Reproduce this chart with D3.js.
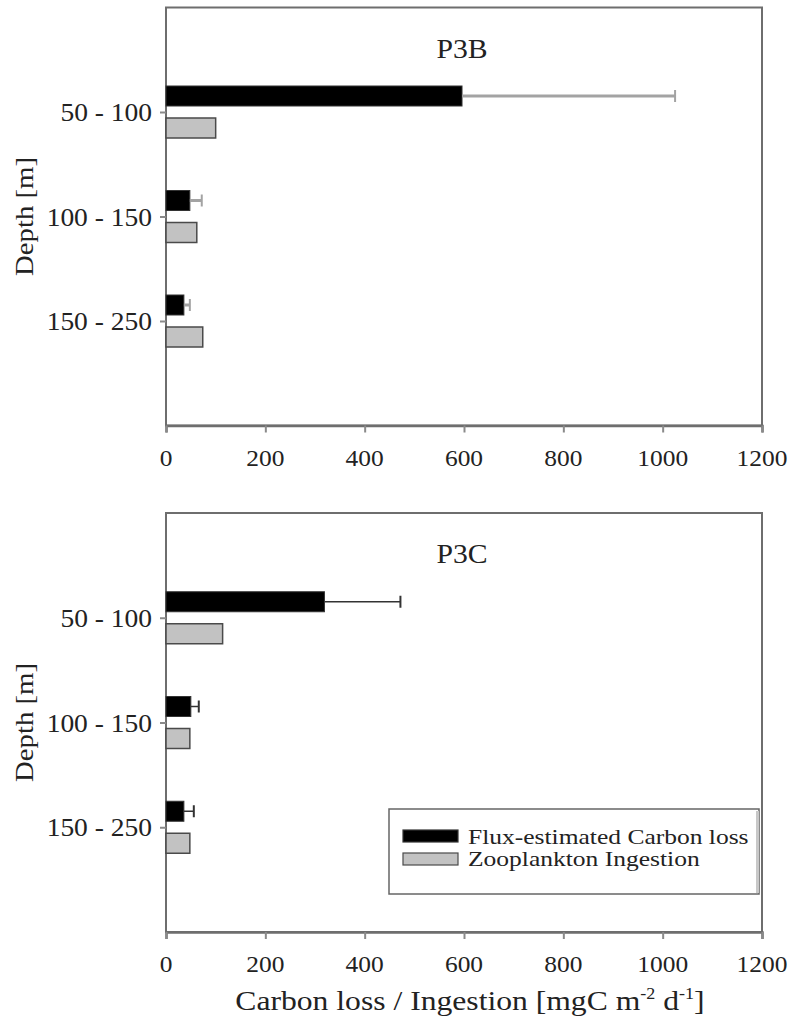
<!DOCTYPE html>
<html>
<head>
<meta charset="utf-8">
<script src="https://cdn.jsdelivr.net/npm/d3@7/dist/d3.min.js"></script>
<style>
  html, body { margin: 0; padding: 0; background: #fff; }
  svg { display: block; }
  text { font-family: "Liberation Serif", "Times New Roman", serif; fill: #222; }
</style>
</head>
<body>
<svg id="chart" width="795" height="1024"></svg>
<script>
// Depth layers (categories) and x-axis ticks
const depths = ["50 - 100", "100 - 150", "150 - 250"];
const xTicks = [0, 200, 400, 600, 800, 1000, 1200];

// Station P3B
const p3bFlux    = [596, 48, 36];
const p3bFluxErr = [429, 24, 12];
const p3bIngest  = [100, 62, 74];

// Station P3C
const p3cFlux    = [319, 50, 36];
const p3cFluxErr = [153, 16, 20];
const p3cIngest  = [114, 48, 48];

const seriesNames = ["Flux-estimated Carbon loss", "Zooplankton Ingestion"];

const svg = d3.select("#chart");

// text helper: places a (optionally rotated) label, slightly widened horizontally
function label(g, x, y, str, anchor, size, sx, rotate) {
  const t = g.append("g")
    .attr("transform", `translate(${x},${y})` + (rotate ? ` rotate(${rotate})` : "") + ` scale(${sx},1)`);
  t.append("text")
    .attr("text-anchor", anchor || "start")
    .attr("font-size", size)
    .text(str);
  return t;
}

const x = d3.scaleLinear().domain([0, 1200]).range([166, 762]);

function panel(top, bottom, title, flux, err, ingest, errColor, errWidth, withLegend) {
  const g = svg.append("g");
  const y = d3.scalePoint().domain(depths).range([top, bottom]).padding(1);

  // frame
  g.append("rect")
    .attr("x", x(0)).attr("y", top)
    .attr("width", x(1200) - x(0)).attr("height", bottom - top)
    .attr("fill", "none").attr("stroke", "#6e6e6e").attr("stroke-width", 2);

  // x axis ticks
  const xa = g.append("g").attr("transform", `translate(0,${bottom})`)
    .call(d3.axisBottom(x).tickValues(xTicks).tickSize(7).tickFormat(""));
  xa.select(".domain").attr("stroke", "#6e6e6e").attr("stroke-width", 2.5);
  xa.selectAll(".tick line").attr("stroke", "#8a8a8a").attr("stroke-width", 2);
  xTicks.forEach(v => label(g, x(v), bottom + 40, String(v), "middle", 24, 1.06));

  // y axis ticks
  const ya = g.append("g").attr("transform", `translate(${x(0)},0)`)
    .call(d3.axisLeft(y).tickSize(6).tickFormat(""));
  ya.select(".domain").remove();
  ya.selectAll(".tick line").attr("stroke", "#8a8a8a").attr("stroke-width", 2);
  depths.forEach(d => label(g, 152, y(d) + 9, d, "end", 25, 1.1));

  // title
  label(g, (x(0) + x(1200)) / 2 - 2, top + 50, title, "middle", 27, 1.1);

  // zooplankton ingestion bars
  g.selectAll(".ing").data(depths).enter().append("rect")
    .attr("x", x(0)).attr("y", d => y(d) + 6)
    .attr("width", (d, i) => x(ingest[i]) - x(0)).attr("height", 20)
    .attr("fill", "#c2c2c2").attr("stroke", "#4a4a4a").attr("stroke-width", 1.5);

  // flux-estimated carbon loss bars
  g.selectAll(".flux").data(depths).enter().append("rect")
    .attr("x", x(0)).attr("y", d => y(d) - 26)
    .attr("width", (d, i) => x(flux[i]) - x(0)).attr("height", 20)
    .attr("fill", "#000").attr("stroke", "#333").attr("stroke-width", 1);

  // error bars
  depths.forEach((d, i) => {
    const cy = y(d) - 16;
    g.append("line")
      .attr("x1", x(flux[i])).attr("x2", x(flux[i] + err[i]))
      .attr("y1", cy).attr("y2", cy)
      .attr("stroke", errColor).attr("stroke-width", errWidth);
    g.append("line")
      .attr("x1", x(flux[i] + err[i])).attr("x2", x(flux[i] + err[i]))
      .attr("y1", cy - 6).attr("y2", cy + 6)
      .attr("stroke", errColor).attr("stroke-width", 2);
  });

  // depth label
  label(g, 33, (top + bottom) / 2, "Depth [m]", "middle", 25, 1.15, -90);

  if (withLegend) {
    const lg = g.append("g");
    lg.append("rect").attr("x", 389).attr("y", 809).attr("width", 370).attr("height", 85)
      .attr("fill", "#fff").attr("stroke", "#666").attr("stroke-width", 1.5);
    lg.append("rect").attr("x", 756).attr("y", 811).attr("width", 3).attr("height", 82)
      .attr("fill", "#c8c8c8");
    const fills = ["#000", "#c2c2c2"];
    const strokes = ["#333", "#4a4a4a"];
    seriesNames.forEach((s, i) => {
      lg.append("rect").attr("x", 403).attr("y", 830 + i * 23).attr("width", 55).attr("height", 12)
        .attr("fill", fills[i]).attr("stroke", strokes[i]).attr("stroke-width", 1.2);
      label(lg, 468, 844 + i * 22, s, "start", 22, 1.16);
    });
  }
}

panel(7.5, 425.5, "P3B", p3bFlux, p3bFluxErr, p3bIngest, "#a3a3a3", 3, false);
panel(513, 932, "P3C", p3cFlux, p3cFluxErr, p3cIngest, "#333", 1.5, true);

// shared x-axis title with superscripts
const xt = svg.append("g").attr("transform", `translate(${(x(0) + x(1200)) / 2 + 6},1010) scale(1.13,1)`);
const t = xt.append("text").attr("text-anchor", "middle").attr("font-size", 28);
t.append("tspan").text("Carbon loss / Ingestion [mgC m");
t.append("tspan").attr("font-size", 16).attr("dy", -11).text("-2");
t.append("tspan").attr("dy", 11).text(" d");
t.append("tspan").attr("font-size", 16).attr("dy", -11).text("-1");
t.append("tspan").attr("dy", 11).text("]");
</script>
</body>
</html>
